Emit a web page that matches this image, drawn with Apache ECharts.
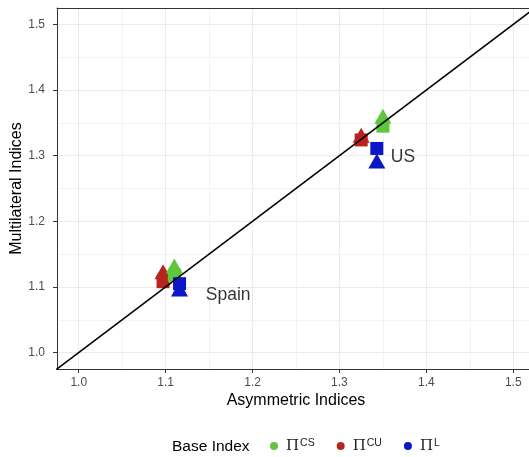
<!DOCTYPE html>
<html>
<head>
<meta charset="utf-8">
<script src="https://cdn.jsdelivr.net/npm/echarts@6/dist/echarts.min.js"></script>
<style>
  html, body { margin: 0; padding: 0; background: #fff; }
  #chart { width: 529px; height: 457px; }
</style>
</head>
<body>
<div id="chart"></div>
<script>
// countries, in the order of the value arrays below
const countries = ['Spain', 'US'];
// base index names (legend superscripts)
const baseNames = ['CS', 'CU', 'L'];
// asymmetric index (x) per base, per country
const asymCS = [1.110, 1.350];
const asymCU = [1.097, 1.325];
const asymL = [1.116, 1.343];
// multilateral index (y), triangle method
const triCS = [1.132, 1.360];
const triCU = [1.123, 1.331];
const triL = [1.097, 1.292];
// multilateral index (y), square method
const sqCS = [1.118, 1.345];
const sqCU = [1.108, 1.324];
const sqL = [1.105, 1.311];
// country label positions
const labelX = [1.172, 1.373];
const labelY = [1.088, 1.297];
// 45 degree reference line
const diag = [0.9, 1.6];
// axis range
const axisMin = 0.975;
const axisMax = 1.525;

const colors = { CS: '#5fc63b', CU: '#b8231f', L: '#0a17c6' };

function points(xs, tri, sq) {
  let arr = [];
  xs.forEach((x, i) => {
    arr.push({ value: [x, sq[i]], symbol: 'rect', symbolSize: 13 });
    arr.push({ value: [x, tri[i]], symbol: 'triangle', symbolSize: [17, 15] });
  });
  return arr;
}

function axisPair(pos, minorPos) {
  return [{
    type: 'value',
    position: pos,
    min: axisMin,
    max: axisMax,
    splitNumber: 5,
    nameMoveOverlap: false,
    axisLine: { show: true, onZero: false, lineStyle: { color: '#333', width: 1 } },
    axisTick: { show: true, length: 4, lineStyle: { color: '#333' } },
    axisLabel: {
      showMinLabel: false,
      showMaxLabel: false,
      color: '#4d4d4d',
      fontSize: 12,
      fontFamily: 'Liberation Sans',
      margin: pos === 'left' ? 12 : 8,
      formatter: v => v.toFixed(1)
    },
    splitLine: { show: true, lineStyle: { color: '#ebebeb', width: 1.1 } }
  }, {
    // minor grid lines + far border
    type: 'value',
    position: minorPos,
    min: axisMin,
    max: axisMax,
    interval: 0.025,
    axisLine: { show: true, onZero: false, lineStyle: { color: '#333', width: 1 } },
    axisTick: { show: false },
    axisLabel: { show: false },
    splitLine: { show: true, lineStyle: { color: ['transparent', 'transparent', 'transparent', '#f3f3f3'], width: 1 } }
  }];
}

const xAxes = axisPair('bottom', 'top');
xAxes[0].name = 'Asymmetric Indices';
xAxes[0].nameLocation = 'middle';
xAxes[0].nameGap = 24;
xAxes[0].nameTextStyle = { color: '#000', fontSize: 16, fontFamily: 'Liberation Sans' };
const yAxes = axisPair('left', 'right');
yAxes[0].name = 'Multilateral Indices';
yAxes[0].nameLocation = 'middle';
yAxes[0].nameGap = 32;
yAxes[0].nameTextStyle = { color: '#000', fontSize: 16, fontFamily: 'Liberation Sans' };

const option = {
  animation: false,
  backgroundColor: '#fff',
  grid: { left: 57, top: 8, right: -6, bottom: 88, containLabel: false, outerBoundsMode: 'none' },
  xAxis: xAxes,
  yAxis: yAxes,
  title: {
    text: 'Base Index',
    left: 172,
    top: 439,
    textStyle: { color: '#000', fontSize: 15.5, fontWeight: 'normal', fontFamily: 'Liberation Sans' },
    padding: 0
  },
  legend: {
    data: baseNames,
    left: 270,
    top: 438,
    icon: 'circle',
    itemWidth: 8,
    itemHeight: 8,
    itemGap: 22,
    padding: 0,
    formatter: name => '{p|Π}{s|' + name + '}',
    textStyle: {
      color: '#000',
      padding: [0, 0, 0, 3],
      rich: {
        p: { fontSize: 15, fontFamily: 'DejaVu Serif', color: '#222', lineHeight: 18 },
        s: { fontSize: 10.5, fontFamily: 'Liberation Sans', color: '#222', verticalAlign: 'top', padding: [1, 0, 0, 1] }
      }
    }
  },
  series: [
    {
      type: 'line',
      data: diag.map(v => [v, v]),
      symbol: 'none',
      clip: true,
      lineStyle: { color: '#000', width: 1.5 },
      silent: true
    },
    { name: 'CU', type: 'scatter', data: points(asymCU, triCU, sqCU), itemStyle: { color: colors.CU, opacity: 1 } },
    { name: 'CS', type: 'scatter', data: points(asymCS, triCS, sqCS), itemStyle: { color: colors.CS, opacity: 1 } },
    { name: 'L', type: 'scatter', data: points(asymL, triL, sqL), itemStyle: { color: colors.L, opacity: 1 } },
    {
      type: 'scatter',
      data: countries.map((c, i) => ({ name: c, value: [labelX[i], labelY[i]] })),
      symbolSize: 1,
      itemStyle: { color: 'rgba(0,0,0,0)' },
      label: {
        show: true,
        position: 'inside',
        formatter: p => p.name,
        color: '#000',
        textBorderWidth: 0,
        fontSize: 17.5,
        fontFamily: 'Liberation Sans'
      },
      silent: true
    }
  ]
};

const myChart = echarts.init(document.getElementById('chart'));
myChart.setOption(option);
</script>
</body>
</html>
